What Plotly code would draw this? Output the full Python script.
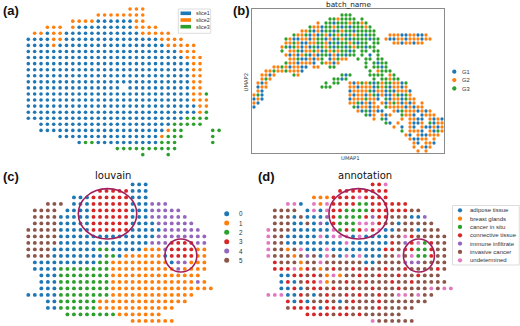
import plotly.graph_objects as go

W, H = 520, 326

palette = ["#1f77b4", "#ff7f0e", "#2ca02c", "#d62728", "#9467bd", "#8c564b", "#e377c2"]

# ---------------- (a) slice membership of each spot (run-length: code+count) ----
slice_names = ["slice1", "slice2", "slice3"]
slice_rle = [
    ".16 23 .12",
    ".11 28 .12",
    ".7 24 16 22 .12",
    ".3 23 .1 21 19 24 .10",
    ".1 22 11 22 112 25 .8",
    "14 22 115 24 .6",
    "14 21 117 25 .4",
    "124 23 .4",
    "125 23 .3",
    "126 22 .3",
    "126 22 .3",
    "126 22 .3",
    "126 22 .3",
    "115 .1 110 22 .3",
    "126 22 31 .2",
    "126 23 .2",
    "127 22 .2",
    "127 21 31 .2",
    "125 34 .2",
    ".2 121 35 .3",
    ".2 120 21 32 .4 32",
    ".5 116 21 33 .4 31 .1",
    ".8 11 32 110 33 .5 31 .1",
    ".14 310 .7",
    ".18 31 .3 31 .8",
]

# ---------------- (b) UMAP, binned: (row, start column, batch codes) ----------
batch_names = ["G1", "G2", "G3"]
umap_segments = [
    (1, 22, "333"),
    (2, 19, "3323333.3"),
    (3, 16, "2.33133323323"),
    (4, 14, "3221332313133323"),
    (5, 12, "2231213313233133333"),
    (6, 10, "322312132132313233133"), (6, 34, "2221122112"),
    (7, 8, "321122123312132313333133"), (7, 33, "211221222122"),
    (8, 8, "223211223321313323133.33"), (8, 35, "22122122"),
    (9, 7, "231321213132313313233133"),
    (10, 7, "3.22312232132323313.33.33"),
    (11, 8, "212123121331213133.3.1.3"),
    (12, 9, "223112123.12322"), (12, 26, "3.33.33"),
    (13, 8, "32212221.32212"), (13, 27, ".3.3133"),
    (14, 5, "223212211.22"), (14, 19, "33"), (14, 28, "3.3313"),
    (15, 3, "2232232221"), (15, 28, ".3.2333"),
    (16, 2, "2212"), (16, 10, "32"), (16, 22, "313"), (16, 29, "3333.23"),
    (17, 2, "232"), (17, 20, "3313"), (17, 29, ".3.33233"),
    (18, 1, "212"), (18, 18, "3.33"), (18, 24, "212323132332213"),
    (19, 1, "122"), (19, 17, "333"), (19, 24, "221222132312212"),
    (20, 1, "21"), (20, 24, "1222231221312221"),
    (21, 0, "231"), (21, 24, "2122123121123132"),
    (22, 0, "121"), (22, 24, "12223221.31221322"),
    (23, 0, "21"), (23, 24, "2231212.212321212.2"),
    (24, 0, "1"), (24, 25, "3122122.3222212122"),
    (25, 26, "2131211..2132221212"),
    (26, 28, "312.212..3221.1222"),
    (27, 30, "2.31...2.2211.2121"),
    (28, 33, "31.2..2112.3122"),
    (29, 35, "2.1.21.211212"),
    (30, 36, ".3.2221.2132"),
    (31, 37, ".21.211222"),
    (32, 38, ".21122.2"),
    (33, 39, ".21.221"),
    (34, 40, "2.212"),
    (35, 41, "2.2"),
]

# ---------------- (c) louvain cluster of each spot (run-length) ---------------
louvain_names = ["0", "1", "2", "3", "4", "5"]
louvain_rle = [
    ".16 03 .10",
    ".11 35 03 .10",
    ".7 03 36 03 .10",
    ".3 53 .1 03 36 03 43 .7",
    ".1 54 .1 04 36 03 45 .5",
    ".1 54 05 36 03 46 .4",
    ".1 54 05 36 04 46 .3",
    "55 05 36 05 46 .2",
    "55 015 48 .1",
    "55 014 43 34 42 .1",
    "54 07 22 05 13 41 34 12 .1",
    "54 08 22 01 16 01 34 12 .1",
    ".1 010 22 19 01 42 13 .1",
    ".1 04 28 110 41 14 .1",
    ".2 03 28 114 .2",
    ".2 03 28 113 41 11 .1",
    ".2 03 28 116",
    "05 28 113 .3",
    ".3 02 26 114 .4",
    ".3 02 26 112 .6",
    ".6 28 17 .8",
    ".16 17 .6",
]

# ---------------- (d) annotation of each spot (one char per spot) ------------
annot_names = ["adipose tissue", "breast glands", "cancer in situ", "connective tissue",
               "immune infiltrate", "invasive cancer", "undetermined"]
annot_rows = [
    "................" "336" "..........",
    "..........." "33333333" "..........",
    "......." "111333363333" "..........",
    "...660.616" "3333223333" "33.......",
    ".5555.0606" "3322223333" "3355.....",
    ".555050004" "3222234335" "55004....",
    ".555005040" "3222666355" "055555...",
    "6555000000" "6232363600" "5550555..",
    "6550000060" "6660600005" "56355555.",
    "6550000000" "0060000003" "54362355.",
    "6551560006" "0000000033" "53322355.",
    "6555154506" "5060600055" "65622355.",
    ".355515565" "5555500555" "54445555.",
    ".333613515" "3553535535" "53555535.",
    "..00335351" "6155355355" "3553555..",
    "..03053361" "5535535553" "55355555.",
    "..00305335" "3553553555" "355556566",
    "6660035053" "5535355355" "665655...",
    "...3030553" "5053555355" "55555....",
    "...5333303" "3535555355" "555......",
    "......3333" "5335355555" "5........",
    "................" "6555555" "......",
]


def decode_rle(rows):
    out = []
    for r in rows:
        s = ""
        for tok in r.split():
            s += tok[0] * int(tok[1:])
        out.append(s)
    return out


def cells(rows, code):
    xs, ys = [], []
    for ri, row in enumerate(rows):
        for ci, ch in enumerate(row):
            if ch == code:
                xs.append(ci)
                ys.append(ri)
    return xs, ys


def xdom(a, b):
    return [a / W, b / W]


def ydom(top, bottom):
    return [1 - bottom / H, 1 - top / H]


fig = go.Figure()

# (a)
slice_grid = decode_rle(slice_rle)
for i, name in enumerate(slice_names):
    xs, ys = cells(slice_grid, str(i + 1))
    fig.add_trace(go.Scatter(x=xs, y=ys, mode="markers", name=name, showlegend=False,
                             marker=dict(size=3.6, color=palette[i], line=dict(width=0)),
                             xaxis="x", yaxis="y"))

# (b)
ux, uy, uc = [], [], []
for row, col, codes in umap_segments:
    for k, ch in enumerate(codes):
        if ch != ".":
            ux.append(col + k)
            uy.append(row)
            uc.append(palette[int(ch) - 1])
fig.add_trace(go.Scatter(x=ux, y=uy, mode="markers", showlegend=False,
                         marker=dict(size=3.3, color=uc, line=dict(width=0)),
                         xaxis="x2", yaxis="y2"))

# (c)
louv_grid = decode_rle(louvain_rle)
for i, name in enumerate(louvain_names):
    xs, ys = cells(louv_grid, str(i))
    fig.add_trace(go.Scatter(x=xs, y=ys, mode="markers", name=name, showlegend=False,
                             marker=dict(size=3.9, color=palette[i], line=dict(width=0)),
                             xaxis="x3", yaxis="y3"))

# (d)
for i, name in enumerate(annot_names):
    xs, ys = cells(annot_rows, str(i))
    fig.add_trace(go.Scatter(x=xs, y=ys, mode="markers", name=name, showlegend=False,
                             marker=dict(size=3.9, color=palette[i], line=dict(width=0)),
                             xaxis="x4", yaxis="y4"))

# hand-drawn legends on an overlay axis in pixel units
annotations = []
shapes = []
TXT = "#333333"
SMALL = "DejaVu Sans"
NARROW = "Liberation Sans"

# legend (a)
shapes.append(dict(type="rect", xref="x5", yref="y5", x0=178.3, x1=210.7, y0=9, y1=33.3,
                   line=dict(color="#d4d4d4", width=0.8)))
for i, name in enumerate(slice_names):
    yc = 13.3 + 6.7 * i
    shapes.append(dict(type="rect", xref="x5", yref="y5", x0=180.5, x1=191, y0=yc - 1.8, y1=yc + 1.8,
                       fillcolor=palette[i], line=dict(width=0)))
    annotations.append(dict(x=194, y=yc, xref="x5", yref="y5", text=name, showarrow=False,
                            xanchor="left", yanchor="middle", font=dict(size=5.4, color=TXT, family=NARROW)))

# legend (b)
fig.add_trace(go.Scatter(x=[454.3] * 3, y=[71.7 + 8.4 * i for i in range(3)], mode="markers",
                         showlegend=False, marker=dict(size=4.3, color=palette[:3], line=dict(width=0)),
                         xaxis="x5", yaxis="y5"))
for i, name in enumerate(batch_names):
    annotations.append(dict(x=459.5, y=71.7 + 8.4 * i, xref="x5", yref="y5", text=name, showarrow=False,
                            xanchor="left", yanchor="middle", font=dict(size=5.8, color=TXT, family=NARROW)))

# legend (c)
fig.add_trace(go.Scatter(x=[226.7] * 6, y=[213.7 + 9.33 * i for i in range(6)], mode="markers",
                         showlegend=False, marker=dict(size=5, color=palette[:6], line=dict(width=0)),
                         xaxis="x5", yaxis="y5"))
for i, name in enumerate(louvain_names):
    annotations.append(dict(x=236.5, y=213.7 + 9.33 * i, xref="x5", yref="y5", text=name, showarrow=False,
                            xanchor="left", yanchor="middle", font=dict(size=6.3, color=TXT, family=NARROW)))

# legend (d)
shapes.append(dict(type="rect", xref="x5", yref="y5", x0=452.5, x1=519.3, y0=205.5, y1=265,
                   line=dict(color="#d4d4d4", width=0.8)))
fig.add_trace(go.Scatter(x=[460] * 7, y=[210.3 + 8.33 * i for i in range(7)], mode="markers",
                         showlegend=False, marker=dict(size=4.3, color=palette[:7], line=dict(width=0)),
                         xaxis="x5", yaxis="y5"))
for i, name in enumerate(annot_names):
    annotations.append(dict(x=467.5, y=210.3 + 8.33 * i, xref="x5", yref="y5", text=name, showarrow=False,
                            xanchor="left", yanchor="middle", font=dict(size=6, color=TXT, family=NARROW)))

# ellipses marking regions in (c) and (d)
RING = "#a3205f"
for xr, yr, cx, cy, rx, ry in [("x3", "y3", 12.15, 4.52, 4.48, 3.87),
                               ("x3", "y3", 23.4, 10.94, 2.45, 2.54),
                               ("x4", "y4", 13.8, 4.52, 4.5, 3.87),
                               ("x4", "y4", 23.1, 10.94, 2.38, 2.54)]:
    shapes.append(dict(type="circle", xref=xr, yref=yr, x0=cx - rx, x1=cx + rx, y0=cy - ry, y1=cy + ry,
                       line=dict(color=RING, width=1.6)))

# panel labels and titles
LBL = "Liberation Sans"
for txt, x, y in [("(a)", 1, 10), ("(b)", 231, 10), ("(c)", 1, 176.5), ("(d)", 256, 176.5)]:
    annotations.append(dict(x=x, y=y, xref="x5", yref="y5", text="<b>" + txt + "</b>", showarrow=False,
                            xanchor="left", yanchor="middle", font=dict(size=13, color="#111111", family=LBL)))
annotations.append(dict(x=112.5, y=175, xref="x5", yref="y5", text="louvain", showarrow=False,
                        xanchor="center", yanchor="middle", font=dict(size=10, color="#111111", family=SMALL)))
annotations.append(dict(x=364.7, y=175, xref="x5", yref="y5", text="annotation", showarrow=False,
                        xanchor="center", yanchor="middle", font=dict(size=10, color="#111111", family=SMALL)))
annotations.append(dict(x=348, y=4.3, xref="x5", yref="y5", text="batch_name", showarrow=False,
                        xanchor="center", yanchor="middle", font=dict(size=7.3, color="#222222", family=SMALL)))
annotations.append(dict(x=350, y=158, xref="x5", yref="y5", text="UMAP1", showarrow=False,
                        xanchor="center", yanchor="middle", font=dict(size=5.3, color=TXT, family=SMALL)))
annotations.append(dict(x=245.5, y=82, xref="x5", yref="y5", text="UMAP2", showarrow=False, textangle=-90,
                        xanchor="center", yanchor="middle", font=dict(size=5.3, color=TXT, family=SMALL)))

hidden = dict(visible=False, showgrid=False, zeroline=False)
fig.update_layout(
    width=W, height=H, margin=dict(l=0, r=0, t=0, b=0),
    paper_bgcolor="white", plot_bgcolor="rgba(0,0,0,0)", showlegend=False,
    xaxis=dict(domain=xdom(25.12, 222.28), range=[-0.5, 30.5], anchor="y", **hidden),
    yaxis=dict(domain=ydom(5.97, 157.7), range=[24.5, -0.5], anchor="x", **hidden),
    xaxis2=dict(domain=xdom(252, 444), range=[-0.5, 47.5], anchor="y2", showline=True, mirror=True,
                linecolor="#8a8a8a", linewidth=1, showticklabels=False, ticks="", showgrid=False, zeroline=False),
    yaxis2=dict(domain=ydom(9, 153), range=[35.5, -0.5], anchor="x2", showline=True, mirror=True,
                linecolor="#8a8a8a", linewidth=1, showticklabels=False, ticks="", showgrid=False, zeroline=False),
    xaxis3=dict(domain=xdom(25.04, 214.12), range=[-0.5, 28.5], anchor="y3", **hidden),
    yaxis3=dict(domain=ydom(181.15, 324.15), range=[21.5, -0.5], anchor="x3", **hidden),
    xaxis4=dict(domain=xdom(265.04, 454.12), range=[-0.5, 28.5], anchor="y4", **hidden),
    yaxis4=dict(domain=ydom(181.15, 324.15), range=[21.5, -0.5], anchor="x4", **hidden),
    xaxis5=dict(domain=[0, 1], range=[0, W], anchor="y5", **hidden),
    yaxis5=dict(domain=[0, 1], range=[H, 0], anchor="x5", **hidden),
    shapes=shapes, annotations=annotations,
)

fig.write_html("out.html", config={"displayModeBar": False},
               post_script="document.body.style.margin='0px';document.body.style.overflow='hidden';")
